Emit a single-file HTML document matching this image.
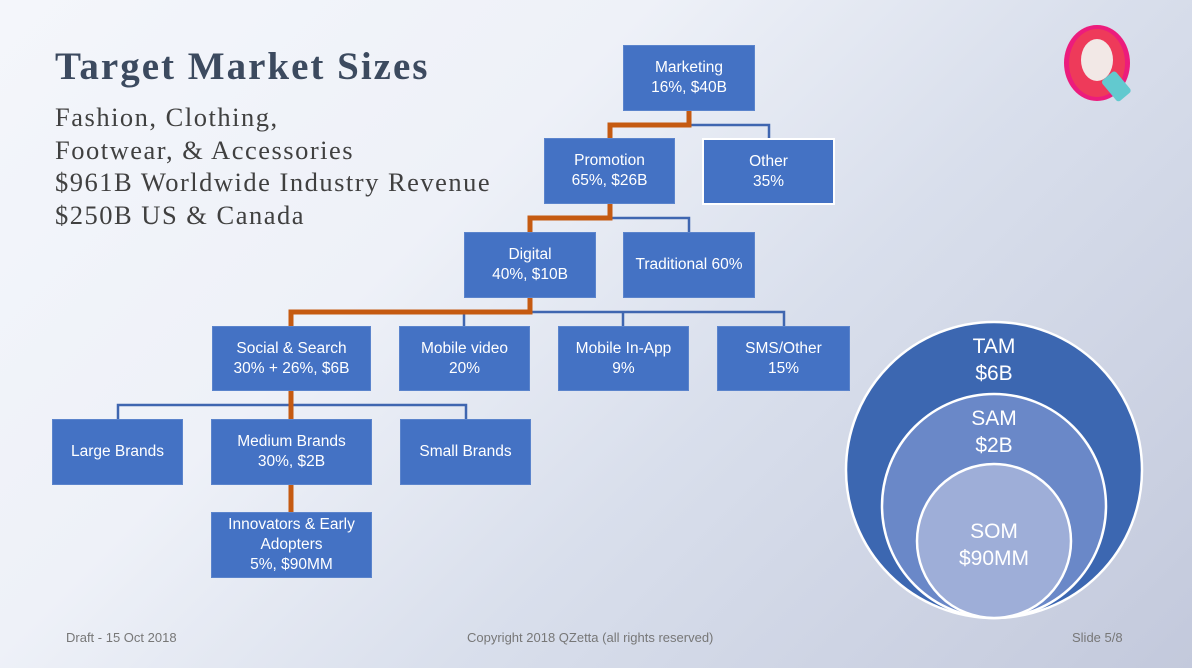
<!DOCTYPE html>
<html><head><meta charset="utf-8"><style>
html,body{margin:0;padding:0}
body{width:1192px;height:668px;position:relative;overflow:hidden;font-family:"Liberation Sans",sans-serif;
background:linear-gradient(135deg,#f4f6fb 0%,#eef1f8 35%,#d9dfec 60%,#c3c9dc 100%);}
.b{position:absolute;background:#4472c4;color:#fff;display:flex;align-items:center;justify-content:center;text-align:center;font-size:15.5px;line-height:20px;box-sizing:border-box;border:1px solid #5b84cc}
.t{position:absolute;font-family:"Liberation Serif",serif;color:#404040}
.f{position:absolute;font-size:13px;color:#777;top:630px}
</style></head><body>
<div class="t" style="left:55px;top:44px;font-size:39px;letter-spacing:2px;font-weight:bold;color:#3c4a5f">Target Market Sizes</div>
<div class="t" style="left:55px;top:101px;font-size:26.5px;letter-spacing:1.5px;line-height:32.5px">Fashion, Clothing,<br>Footwear, &amp; Accessories<br>$961B Worldwide Industry Revenue<br>$250B US &amp; Canada</div>
<svg width="1192" height="668" style="position:absolute;left:0;top:0">
<g fill="none" stroke="#3f66b0" stroke-width="2.5">
<path d="M689 111V125H769V138M610 125V138"/>
<path d="M610 204V218H689V232M530 218V232"/>
<path d="M530 298V312H784V326M291 312V326M464 312V326M623 312V326"/>
<path d="M118 419V405H466V419M291 391V419"/>
</g>
<g fill="none" stroke="#c55a11" stroke-width="5" stroke-linejoin="miter">
<path d="M689 111V125H610V138"/>
<path d="M610 204V218H530V232"/>
<path d="M530 298V312H291V326"/>
<path d="M291 391V419"/>
<path d="M291 485V512"/>
</g>
<circle cx="994" cy="470" r="148" fill="#3c67b1" stroke="#fff" stroke-width="2.5"/>
<circle cx="994" cy="506" r="112" fill="#6a88c8" stroke="#fff" stroke-width="2.5"/>
<circle cx="994" cy="541" r="77" fill="#9eaed8" stroke="#fff" stroke-width="2.5"/>
<g fill="#fff" font-family="Liberation Sans, sans-serif" font-size="21" text-anchor="middle">
<text x="994" y="353">TAM</text><text x="994" y="380">$6B</text>
<text x="994" y="425">SAM</text><text x="994" y="452">$2B</text>
<text x="994" y="538">SOM</text><text x="994" y="565">$90MM</text>
</g>
<ellipse cx="1097" cy="63" rx="33" ry="38" fill="#ec1c7c"/>
<ellipse cx="1097" cy="63" rx="28" ry="34" fill="#ee3a5a"/>
<ellipse cx="1097" cy="60" rx="16" ry="21" fill="#f2e8e6"/>
<rect x="1107" y="73" width="18" height="27" rx="3" fill="#62c9cf" transform="rotate(-40 1116 86)"/>
</svg>
<div class="b" style="left:623px;top:45px;width:132px;height:66px">Marketing<br>16%, $40B</div>
<div class="b" style="left:544px;top:138px;width:131px;height:66px">Promotion<br>65%, $26B</div>
<div class="b" style="left:702px;top:138px;width:133px;height:67px;border:2px solid #fff">Other<br>35%</div>
<div class="b" style="left:464px;top:232px;width:132px;height:66px">Digital<br>40%, $10B</div>
<div class="b" style="left:623px;top:232px;width:132px;height:66px">Traditional 60%</div>
<div class="b" style="left:212px;top:326px;width:159px;height:65px">Social &amp; Search<br>30% + 26%, $6B</div>
<div class="b" style="left:399px;top:326px;width:131px;height:65px">Mobile video<br>20%</div>
<div class="b" style="left:558px;top:326px;width:131px;height:65px">Mobile In-App<br>9%</div>
<div class="b" style="left:717px;top:326px;width:133px;height:65px">SMS/Other<br>15%</div>
<div class="b" style="left:52px;top:419px;width:131px;height:66px">Large Brands</div>
<div class="b" style="left:211px;top:419px;width:161px;height:66px">Medium Brands<br>30%, $2B</div>
<div class="b" style="left:400px;top:419px;width:131px;height:66px">Small Brands</div>
<div class="b" style="left:211px;top:512px;width:161px;height:66px">Innovators &amp; Early<br>Adopters<br>5%, $90MM</div>
<div class="f" style="left:66px">Draft - 15 Oct 2018</div>
<div class="f" style="left:467px">Copyright 2018 QZetta (all rights reserved)</div>
<div class="f" style="left:1072px">Slide 5/8</div>
</body></html>
